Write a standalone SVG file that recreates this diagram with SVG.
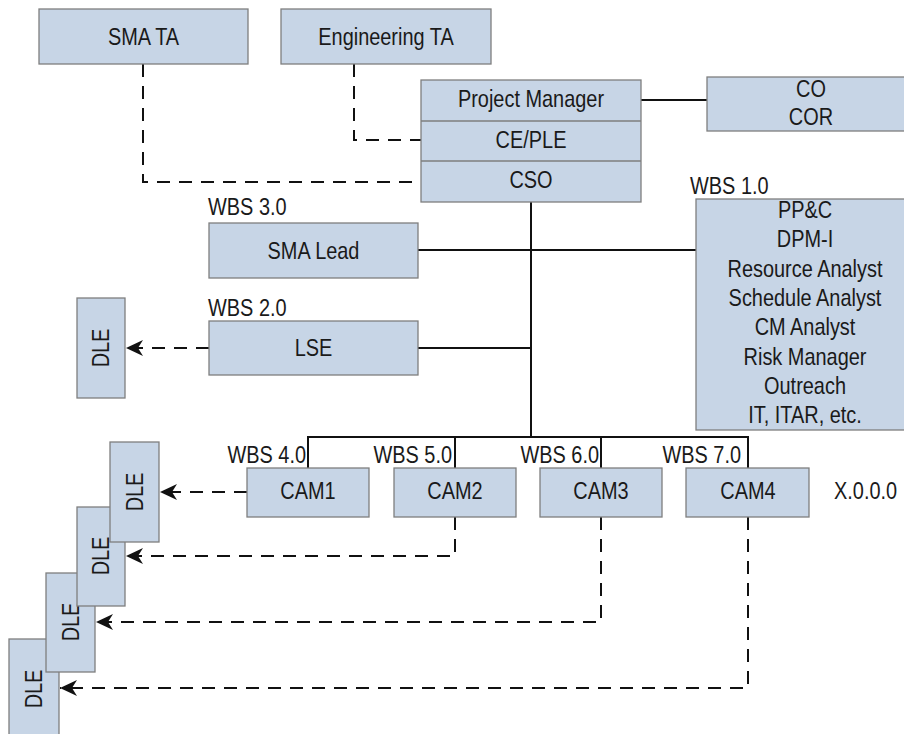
<svg xmlns="http://www.w3.org/2000/svg" width="904" height="734" viewBox="0 0 904 734">
<defs>
<style>
.box{fill:#c7d5e6;stroke:#7f7f7f;stroke-width:1.3}
.div{stroke:#7f7f7f;stroke-width:1.3;fill:none}
.t{font-family:"Liberation Sans",Arial,sans-serif;font-size:24px;fill:#1a1a1a}
.m{text-anchor:middle}
.e{text-anchor:end}
.solid{stroke:#111;stroke-width:2;fill:none}
.dash{stroke:#111;stroke-width:2;fill:none;stroke-dasharray:13 9}
</style>
<marker id="ah" markerUnits="userSpaceOnUse" markerWidth="18" markerHeight="18" viewBox="0 0 18 18" refX="17" refY="9" orient="auto">
<path d="M0,1 L17,9 L0,17 L5,9 Z" fill="#111"/>
</marker>
</defs>
<rect width="904" height="734" fill="#fff"/>
<g id="connectors">
<path class="solid" d="M641,100 H707"/>
<path class="solid" d="M531,202 V437"/>
<path class="solid" d="M418,250 H696"/>
<path class="solid" d="M418,348 H531"/>
<path class="solid" d="M308,468 V437 H748 V468"/>
<path class="solid" d="M455,437 V468"/>
<path class="solid" d="M601,437 V468"/>
<path class="dash" d="M143,64 V182 H421"/>
<path class="dash" d="M354,64 V140 H421"/>
<path class="dash" d="M209,348 H126" marker-end="url(#ah)"/>
<path class="dash" d="M247,492 H160" marker-end="url(#ah)"/>
<path class="dash" d="M455,517 V556 H126" marker-end="url(#ah)"/>
<path class="dash" d="M601,517 V622 H96" marker-end="url(#ah)"/>
<path class="dash" d="M748,517 V688 H60" marker-end="url(#ah)"/>
</g>
<g id="sma-ta">
<rect class="box" x="39" y="9" width="209" height="55"/>
<text class="t m" transform="translate(143.5,45) scale(0.83,1)">SMA TA</text>
</g>
<g id="engineering-ta">
<rect class="box" x="281" y="9" width="210" height="55"/>
<text class="t m" transform="translate(386,45) scale(0.83,1)">Engineering TA</text>
</g>
<g id="project-manager">
<rect class="box" x="421" y="80" width="220" height="122"/>
<path class="div" d="M421,121 H641 M421,161 H641"/>
<text class="t m" transform="translate(531,107) scale(0.83,1)">Project Manager</text>
<text class="t m" transform="translate(531,148) scale(0.83,1)">CE/PLE</text>
<text class="t m" transform="translate(531,188) scale(0.83,1)">CSO</text>
</g>
<g id="co-cor">
<rect class="box" x="707" y="77" width="210" height="54"/>
<text class="t m" transform="translate(811,97) scale(0.83,1)">CO</text>
<text class="t m" transform="translate(811,125) scale(0.83,1)">COR</text>
</g>
<g id="wbs1">
<text class="t" transform="translate(690,194) scale(0.83,1)">WBS 1.0</text>
<rect class="box" x="696" y="199" width="220" height="231"/>
<text class="t m" transform="translate(805,218) scale(0.83,1)">PP&amp;C</text>
<text class="t m" transform="translate(805,247.3) scale(0.83,1)">DPM-I</text>
<text class="t m" transform="translate(805,276.6) scale(0.83,1)">Resource Analyst</text>
<text class="t m" transform="translate(805,305.9) scale(0.83,1)">Schedule Analyst</text>
<text class="t m" transform="translate(805,335.2) scale(0.83,1)">CM Analyst</text>
<text class="t m" transform="translate(805,364.5) scale(0.83,1)">Risk Manager</text>
<text class="t m" transform="translate(805,393.8) scale(0.83,1)">Outreach</text>
<text class="t m" transform="translate(805,423.1) scale(0.83,1)">IT, ITAR, etc.</text>
</g>
<g id="sma-lead">
<text class="t" transform="translate(208,215) scale(0.83,1)">WBS 3.0</text>
<rect class="box" x="209" y="223" width="209" height="55"/>
<text class="t m" transform="translate(313.5,258.5) scale(0.83,1)">SMA Lead</text>
</g>
<g id="lse">
<text class="t" transform="translate(208,316) scale(0.83,1)">WBS 2.0</text>
<rect class="box" x="209" y="321" width="209" height="54"/>
<text class="t m" transform="translate(313.5,355.5) scale(0.83,1)">LSE</text>
</g>
<g id="dle-lse">
<rect class="box" x="77" y="298" width="48" height="100"/>
<text class="t m" transform="translate(109,348) rotate(-90) scale(0.83,1)">DLE</text>
</g>
<g id="cam1">
<text class="t e" transform="translate(306,463) scale(0.83,1)">WBS 4.0</text>
<rect class="box" x="247" y="468" width="122" height="49"/>
<text class="t m" transform="translate(308,499) scale(0.83,1)">CAM1</text>
</g>
<g id="cam2">
<text class="t e" transform="translate(452,463) scale(0.83,1)">WBS 5.0</text>
<rect class="box" x="394" y="468" width="122" height="49"/>
<text class="t m" transform="translate(455,499) scale(0.83,1)">CAM2</text>
</g>
<g id="cam3">
<text class="t e" transform="translate(599,463) scale(0.83,1)">WBS 6.0</text>
<rect class="box" x="540" y="468" width="122" height="49"/>
<text class="t m" transform="translate(601,499) scale(0.83,1)">CAM3</text>
</g>
<g id="cam4">
<text class="t e" transform="translate(741,463) scale(0.83,1)">WBS 7.0</text>
<rect class="box" x="686" y="468" width="123" height="49"/>
<text class="t m" transform="translate(748,499) scale(0.83,1)">CAM4</text>
</g>
<g id="level-label">
<text class="t" transform="translate(834,499) scale(0.83,1)">X.0.0.0</text>
</g>
<g id="dle4">
<rect class="box" x="9" y="639" width="50" height="100"/>
<text class="t m" transform="translate(42,689) rotate(-90) scale(0.83,1)">DLE</text>
</g>
<g id="dle3">
<rect class="box" x="46" y="573" width="49" height="99"/>
<text class="t m" transform="translate(79,622) rotate(-90) scale(0.83,1)">DLE</text>
</g>
<g id="dle2">
<rect class="box" x="77" y="507" width="48" height="99"/>
<text class="t m" transform="translate(109,556) rotate(-90) scale(0.83,1)">DLE</text>
</g>
<g id="dle1">
<rect class="box" x="110" y="442" width="49" height="100"/>
<text class="t m" transform="translate(143,492) rotate(-90) scale(0.83,1)">DLE</text>
</g>
</svg>
